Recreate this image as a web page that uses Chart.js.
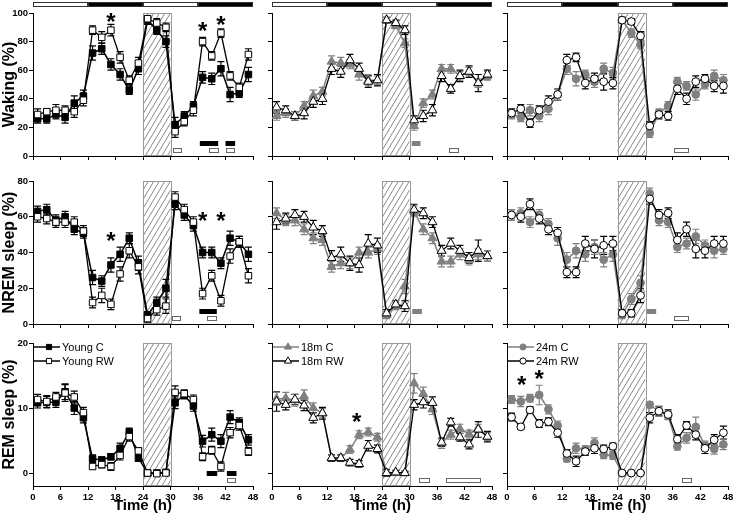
<!DOCTYPE html>
<html>
<head>
<meta charset="utf-8">
<script src="https://cdn.jsdelivr.net/npm/chart.js@4.4.1/dist/chart.umd.min.js"></script>
<style>
  body { margin: 0; background: #fff; }
  #figure { position: relative; width: 734px; height: 515px; overflow: hidden; }
  #figure canvas { position: absolute; }
</style>
</head>
<body>
<div id="figure"></div>
<script>
// time bins (h) and axis ticks
const hours = [1,3,5,7,9,11,13,15,17,19,21,23,25,27,29,31,33,35,37,39,41,43,45,47];
const xTicks = [0,6,12,18,24,30,36,42,48];
const wakeTicks = [0,20,40,60,80,100];
const nremTicks = [0,20,40,60,80];
const remTicks = [0,10,20];
const lightDark = [[0,12,'light'],[12,24,'dark'],[24,36,'light'],[36,48,'dark']];
const deprivation = [24,30];

// Waking (%)
const wakeYoungC  = [26,26,29,27,37,42,72,75,64,57,46,61,95,88,80,22,28,35,55,54,61,43,44,57];
const wakeYoungRW = [29,31,32,32,31,39,88,83,88,69,53,65,96,93,90,17,24,32,80,70,86,56,48,71];
const wakeYoungCErr  = [3,3,3,4,5,4,5,4,4,4,3,4,3,3,4,5,3,3,4,4,5,5,3,5];
const wakeYoungRWErr = [4,2,4,3,4,4,3,4,4,4,3,4,2,3,3,4,3,4,3,3,3,3,3,4];
const wake18C  = [28,30,28,35,42,45,66,65,64,57,53,53,95,91,79,21,37,43,61,61,56,59,51,56];
const wake18RW = [34,32,28,30,38,40,61,59,67,61,52,53,95,93,88,25,28,32,56,47,56,59,51,57];
const wake18CErr  = [3,3,3,3,4,3,4,4,3,4,4,3,2,2,3,3,3,3,3,3,3,3,3,3];
const wake18RWErr = [4,3,3,4,4,4,4,4,4,4,4,4,2,2,3,3,4,4,4,3,4,4,6,3];
const wake24C  = [29,27,32,28,33,43,61,54,57,52,61,58,95,86,78,16,30,35,52,49,43,50,56,53];
const wake24RW = [30,33,23,32,38,43,67,69,51,54,52,51,95,94,84,21,29,28,47,40,52,54,49,49];
const wake24CErr  = [3,3,4,4,4,4,4,5,3,4,4,4,2,3,3,3,3,3,3,3,4,3,4,4];
const wake24RWErr = [3,3,3,3,4,4,4,3,4,4,6,4,2,2,3,3,3,3,4,4,4,3,4,5];

// NREM sleep (%)
const nremYoungC  = [63,64,58,60,53,51,26,24,33,39,48,34,5,12,20,67,61,55,40,40,34,48,46,39];
const nremYoungRW = [60,59,57,57,57,52,12,16,11,28,41,32,3,8,10,71,64,57,17,27,13,38,46,27];
const nremYoungCErr  = [3,3,3,3,3,3,4,3,4,4,3,4,2,3,5,3,3,3,3,3,3,4,3,4];
const nremYoungRWErr = [3,3,3,3,3,3,3,4,3,4,4,4,2,3,4,3,3,3,3,3,3,4,3,4];
const nrem18C  = [62,58,58,53,48,47,32,34,34,40,40,42,5,10,21,63,53,48,35,35,39,36,39,38];
const nrem18RW = [57,59,61,60,54,52,37,39,34,33,45,44,6,11,10,64,62,57,41,45,41,37,41,38];
const nrem18CErr  = [3,3,3,3,3,3,3,3,3,3,3,3,2,2,4,3,3,3,3,3,3,3,3,3];
const nrem18RWErr = [4,3,3,3,4,3,4,4,4,4,5,4,2,2,3,3,3,3,3,3,3,3,6,3];
const nrem24C  = [61,62,57,61,56,48,36,41,39,43,36,39,5,14,23,73,58,57,43,45,49,44,41,42];
const nrem24RW = [61,60,67,59,53,51,29,29,45,42,44,45,6,6,16,70,61,62,47,53,42,41,45,45];
const nrem24CErr  = [3,3,3,3,3,4,4,4,4,4,4,4,2,3,4,3,3,3,3,3,4,3,4,3];
const nrem24RWErr = [3,3,3,3,3,3,3,3,4,5,5,4,2,2,4,3,3,3,4,4,5,4,4,4];

// REM sleep (%)
const remYoungC  = [10.8,10.9,10.9,12.5,10,8.5,2.2,2,2.5,3.8,6.3,2.3,0,0,0.1,10.8,12,10.3,4.9,5.9,4.9,8.6,7.8,5.1];
const remYoungRW = [11.3,11,11.7,12.3,11.7,9.3,1,1.3,1,2.7,5.6,3.4,0,-0.1,0,12.4,12.2,11.3,2.5,3.5,1,6.2,7.3,3.3];
const remYoungCErr  = [0.8,0.9,0.8,1.2,1,0.8,0.6,0.5,0.5,0.8,0.6,0.5,0.3,0.3,0.3,0.9,0.6,0.8,0.9,1,1,1,0.7,0.8];
const remYoungRWErr = [0.8,0.9,0.7,1.3,0.9,0.8,0.4,0.5,0.6,0.7,0.7,0.5,0.3,0.3,0.3,1,0.6,0.7,0.6,0.6,0.7,0.8,0.7,0.6];
const rem18C  = [11.4,11.5,11.2,11.8,10,9.2,2.3,2.3,3.6,5.9,6.3,5.5,0,0,0,13.8,12.2,9.8,4.6,5.9,6.8,6,6.9,5.6];
const rem18RW = [11,10.5,11.3,10.4,8.5,9.2,2.3,2.3,1.6,1.4,4.2,3.7,0,0.1,0,10.5,10.9,10.8,4.7,7.8,5.5,4.4,6.7,5.6];
const rem18CErr  = [1,0.9,0.9,1,0.8,0.7,0.4,0.4,0.6,0.6,0.6,0.6,0.3,0.3,0.3,1.5,1,0.8,0.8,0.7,0.7,0.6,0.6,0.6];
const rem18RWErr = [1.5,0.8,0.8,0.8,0.8,0.9,0.5,0.5,0.5,0.5,0.8,0.6,0.5,0.3,0.3,0.8,0.9,0.9,0.6,0.6,0.6,0.7,1.2,0.8];
const rem24C  = [11.3,11,11.5,12,9.8,7.3,2.2,3.8,3.6,4.6,2.8,2.7,0,0,0,10.5,9.5,8.8,4.1,5.4,7.1,4.2,3.7,4.4];
const rem24RW = [8.6,7.1,9.7,7.6,7.9,6.2,3,1.8,3.3,3.8,3.7,4.1,0,0,0,8.5,9.5,9,5.2,7.3,5.9,3.8,5.1,6.2];
const rem24CErr  = [0.6,0.8,0.6,1.5,0.7,0.7,0.5,0.8,0.6,0.8,0.6,0.6,0.3,0.3,0.3,0.5,0.8,0.6,0.6,0.8,1.5,0.7,0.8,0.8];
const rem24RWErr = [0.6,0.4,0.5,0.6,0.6,0.7,0.6,0.8,0.6,0.8,0.6,0.5,0.3,0.3,0.3,0.8,0.7,0.7,0.7,0.6,0.8,0.8,0.8,1];

// significance bars (hour ranges) and asterisks [hour, value]
const wakeYoungSigC = [[36.4,40.4],[42,44.1]];
const wakeYoungSigRW = [[30.5,32.5],[38.3,40.5],[42,44.1]];
const wake18SigC = [[30.5,32.4]];
const wake18SigRW = [[38.7,40.7]];
const wake24SigC = [];
const wake24SigRW = [[36.2,39.6]];
const nremYoungSigC = [[36.3,40.1]];
const nremYoungSigRW = [[30.3,32.4],[37.9,40.1]];
const nrem18SigC = [[30.6,32.7]];
const nrem18SigRW = [];
const nrem24SigC = [[30.4,32.4]];
const nrem24SigRW = [[36.2,39.6]];
const remYoungSigC = [[37.9,40.2],[42.3,44.4]];
const remYoungSigRW = [[42.3,44.4]];
const rem18SigC = [];
const rem18SigRW = [[32.1,34.5],[38,45.6]];
const rem24SigC = [];
const rem24SigRW = [[38,40.2]];
const wakeYoungStars = [[17,97.4],[37,90.9],[41,95.1]];
const nremYoungStars = [[17,49.2],[37,60.6],[41,60.6]];
const rem18Stars = [[18.5,8.6]];
const rem24Stars = [[3.2,14.3],[7,15.3]];

// layout
const FONT = '"Liberation Sans", Arial, sans-serif';
Chart.defaults.font.family = FONT;
const colLeft = [33, 272, 507], colRight = [253, 492, 728];
const rowTop = [13, 181, 343], rowBottom = [156, 324, 486];
const padTop = [13, 8, 7], axisH = [8, 8, 29];
const YW = 33;
const GRAY = '#808080';

const rows = [
  { title: 'Waking (%)', min: 0, max: 100, ticks: wakeTicks },
  { title: 'NREM sleep (%)', min: 0, max: 80, ticks: nremTicks },
  { title: 'REM sleep (%)', min: -2, max: 20, ticks: remTicks }
];

const groups = {
  young: { names: ['Young C', 'Young RW'], shape: 'rect', r: 4.6, cColor: '#000' },
  m18:   { names: ['18m C', '18m RW'], shape: 'triangle', r: 5.2, cColor: GRAY },
  m24:   { names: ['24m C', '24m RW'], shape: 'circle', r: 3.9, cColor: GRAY }
};

const panels = [
  { row:0, col:0, g:'young', c:wakeYoungC, cErr:wakeYoungCErr, rw:wakeYoungRW, rwErr:wakeYoungRWErr, sigC:wakeYoungSigC, sigRW:wakeYoungSigRW, stars:wakeYoungStars },
  { row:0, col:1, g:'m18', c:wake18C, cErr:wake18CErr, rw:wake18RW, rwErr:wake18RWErr, sigC:wake18SigC, sigRW:wake18SigRW, stars:[] },
  { row:0, col:2, g:'m24', c:wake24C, cErr:wake24CErr, rw:wake24RW, rwErr:wake24RWErr, sigC:wake24SigC, sigRW:wake24SigRW, stars:[] },
  { row:1, col:0, g:'young', c:nremYoungC, cErr:nremYoungCErr, rw:nremYoungRW, rwErr:nremYoungRWErr, sigC:nremYoungSigC, sigRW:nremYoungSigRW, stars:nremYoungStars },
  { row:1, col:1, g:'m18', c:nrem18C, cErr:nrem18CErr, rw:nrem18RW, rwErr:nrem18RWErr, sigC:nrem18SigC, sigRW:nrem18SigRW, stars:[] },
  { row:1, col:2, g:'m24', c:nrem24C, cErr:nrem24CErr, rw:nrem24RW, rwErr:nrem24RWErr, sigC:nrem24SigC, sigRW:nrem24SigRW, stars:[] },
  { row:2, col:0, g:'young', c:remYoungC, cErr:remYoungCErr, rw:remYoungRW, rwErr:remYoungRWErr, sigC:remYoungSigC, sigRW:remYoungSigRW, stars:[] },
  { row:2, col:1, g:'m18', c:rem18C, cErr:rem18CErr, rw:rem18RW, rwErr:rem18RWErr, sigC:rem18SigC, sigRW:rem18SigRW, stars:rem18Stars },
  { row:2, col:2, g:'m24', c:rem24C, cErr:rem24CErr, rw:rem24RW, rwErr:rem24RWErr, sigC:rem24SigC, sigRW:rem24SigRW, stars:rem24Stars }
];

function marker(ctx, shape, x, y, r, fill, stroke) {
  ctx.beginPath();
  if (shape === 'rect') {
    const s = r * Math.SQRT1_2;
    ctx.rect(x - s, y - s, 2 * s, 2 * s);
  } else if (shape === 'triangle') {
    const b = r * Math.sqrt(3) / 2;
    ctx.moveTo(x, y - r); ctx.lineTo(x + b, y + r / 2); ctx.lineTo(x - b, y + r / 2); ctx.closePath();
  } else {
    ctx.arc(x, y, r, 0, Math.PI * 2);
  }
  ctx.fillStyle = fill; ctx.fill();
  ctx.lineWidth = 1; ctx.strokeStyle = stroke; ctx.stroke();
}

function decor(p) {
  const g = groups[p.g];
  return {
    id: 'decor',
    beforeDatasetsDraw(chart) {
      const { ctx, chartArea: a, scales: { x, y } } = chart;
      // hatched sleep-deprivation window
      const x0 = x.getPixelForValue(deprivation[0]), x1 = x.getPixelForValue(deprivation[1]);
      const h = a.bottom - a.top;
      const run = h * 0.6;
      ctx.save();
      ctx.beginPath(); ctx.rect(x0, a.top, x1 - x0, h); ctx.clip();
      ctx.strokeStyle = '#555'; ctx.lineWidth = 0.7;
      for (let s = x0 - run; s < x1 + 2; s += 5.5) {
        ctx.beginPath(); ctx.moveTo(s, a.bottom); ctx.lineTo(s + run, a.top); ctx.stroke();
      }
      ctx.restore();
      ctx.save();
      ctx.strokeStyle = '#999'; ctx.lineWidth = 1;
      ctx.strokeRect(Math.round(x0) + 0.5, Math.round(a.top) + 0.5, Math.round(x1 - x0), Math.round(h) - 1);
      // error bars
      chart.data.datasets.forEach((ds, di) => {
        const meta = chart.getDatasetMeta(di);
        ctx.strokeStyle = ds.errColor; ctx.lineWidth = 1.2;
        meta.data.forEach((pt, i) => {
          const v = ds.data[i].y, e = ds.errors[i];
          const yt = y.getPixelForValue(v + e), yb = y.getPixelForValue(v - e);
          ctx.beginPath();
          ctx.moveTo(pt.x, yt); ctx.lineTo(pt.x, yb);
          ctx.moveTo(pt.x - 3.5, yt); ctx.lineTo(pt.x + 3.5, yt);
          ctx.moveTo(pt.x - 3.5, yb); ctx.lineTo(pt.x + 3.5, yb);
          ctx.stroke();
        });
      });
      ctx.restore();
    },
    afterDatasetsDraw(chart) {
      const { ctx, chartArea: a, scales: { x, y } } = chart;
      ctx.save();
      // significance bars
      p.sigC.forEach(([s, e]) => {
        const x0 = x.getPixelForValue(s), x1 = x.getPixelForValue(e);
        ctx.fillStyle = g.cColor;
        ctx.fillRect(x0, a.bottom - 15, x1 - x0, 5);
      });
      p.sigRW.forEach(([s, e]) => {
        const x0 = Math.round(x.getPixelForValue(s)), x1 = Math.round(x.getPixelForValue(e));
        ctx.fillStyle = '#fff'; ctx.strokeStyle = '#666'; ctx.lineWidth = 1;
        ctx.fillRect(x0, a.bottom - 8, x1 - x0, 5);
        ctx.strokeRect(x0 + 0.5, Math.round(a.bottom) - 7.5, x1 - x0 - 1, 4);
      });
      // asterisks
      ctx.fillStyle = '#000'; ctx.font = 'bold 24px ' + FONT;
      ctx.textAlign = 'center'; ctx.textBaseline = 'alphabetic';
      p.stars.forEach(([hr, v]) => {
        ctx.fillText('*', x.getPixelForValue(hr), y.getPixelForValue(v) + 13);
      });
      // light/dark bar
      if (p.row === 0) {
        const top = Math.round(a.top) - 11;
        lightDark.forEach(([s, e, kind]) => {
          const x0 = Math.round(x.getPixelForValue(s)), x1 = Math.round(x.getPixelForValue(e));
          ctx.fillStyle = kind === 'dark' ? '#000' : '#fff';
          ctx.fillRect(x0, top, x1 - x0, 5);
          ctx.strokeStyle = '#333'; ctx.lineWidth = 1;
          ctx.strokeRect(x0 + 0.5, top + 0.5, x1 - x0 - 1, 4);
        });
      }
      // legend
      if (p.row === 2) {
        const lx = a.left + 1;
        const items = [
          { name: g.names[0], line: g.cColor, fill: g.cColor, edge: g.cColor },
          { name: g.names[1], line: '#000', fill: '#fff', edge: '#000' }
        ];
        items.forEach((it, k) => {
          const ly = a.top + 4 + k * 14;
          ctx.strokeStyle = it.line; ctx.lineWidth = 1.5;
          ctx.beginPath(); ctx.moveTo(lx, ly); ctx.lineTo(lx + 26, ly); ctx.stroke();
          marker(ctx, g.shape, lx + 15, ly, g.r * 0.8, it.fill, it.edge);
          ctx.fillStyle = '#000'; ctx.font = '11px ' + FONT;
          ctx.textAlign = 'left'; ctx.textBaseline = 'middle';
          ctx.fillText(it.name, lx + 28, ly + 0.5);
        });
      }
      ctx.restore();
    }
  };
}

const fig = document.getElementById('figure');

panels.forEach(p => {
  const r = p.row, c = p.col, g = groups[p.g], rowCfg = rows[r];
  const w = YW + colRight[c] - colLeft[c] + 10;
  const h = padTop[r] + rowBottom[r] - rowTop[r] + axisH[r];
  const cv = document.createElement('canvas');
  cv.width = w; cv.height = h;
  cv.style.left = (colLeft[c] - YW) + 'px';
  cv.style.top = (rowTop[r] - padTop[r]) + 'px';
  cv.style.width = w + 'px'; cv.style.height = h + 'px';
  fig.appendChild(cv);

  const toPts = vals => hours.map((hr, i) => ({ x: hr, y: vals[i] }));
  new Chart(cv, {
    type: 'line',
    data: {
      datasets: [
        {
          label: g.names[1], data: toPts(p.rw), errors: p.rwErr, errColor: '#000',
          borderColor: '#000', borderWidth: 1.3, pointStyle: g.shape, pointRadius: g.r,
          pointBackgroundColor: '#fff', pointBorderColor: '#000', pointBorderWidth: 1,
          tension: 0, order: 0, clip: false
        },
        {
          label: g.names[0], data: toPts(p.c), errors: p.cErr, errColor: g.cColor,
          borderColor: g.cColor, borderWidth: 1.5, pointStyle: g.shape, pointRadius: g.r,
          pointBackgroundColor: g.cColor, pointBorderColor: g.cColor, pointBorderWidth: 1,
          tension: 0, order: 1, clip: false
        }
      ]
    },
    options: {
      responsive: false,
      animation: false,
      events: [],
      layout: { padding: { top: padTop[r], right: 10, left: 0, bottom: 0 } },
      plugins: { legend: { display: false }, tooltip: { enabled: false } },
      scales: {
        x: {
          type: 'linear', min: 0, max: 48,
          afterBuildTicks: s => { s.ticks = xTicks.map(v => ({ value: v })); },
          ticks: {
            color: '#000', font: { size: 9.5, weight: 'bold' }, padding: 2,
            maxRotation: 0, autoSkip: false,
            callback: v => (r === 2 ? v : '')
          },
          grid: { drawOnChartArea: false, drawTicks: true, tickLength: 4, color: '#000' },
          border: { color: '#000', width: 1 },
          title: { display: r === 2, text: 'Time (h)', color: '#000', font: { size: 15, weight: 'bold' }, padding: 0 },
          afterFit: s => { s.height = axisH[r]; }
        },
        y: {
          min: rowCfg.min, max: rowCfg.max,
          afterBuildTicks: s => { s.ticks = rowCfg.ticks.map(v => ({ value: v })); },
          ticks: {
            color: '#000', font: { size: 9.5, weight: 'bold' }, padding: 1,
            callback: v => (c === 0 ? v : '')
          },
          grid: { drawOnChartArea: false, drawTicks: true, tickLength: 4, color: '#000' },
          border: { color: '#000', width: 1 },
          title: { display: c === 0, text: rowCfg.title, color: '#000', font: { size: 16, weight: 'bold' }, padding: 0 },
          afterFit: s => { s.width = YW; }
        }
      }
    },
    plugins: [decor(p)]
  });
});
</script>
</body>
</html>
